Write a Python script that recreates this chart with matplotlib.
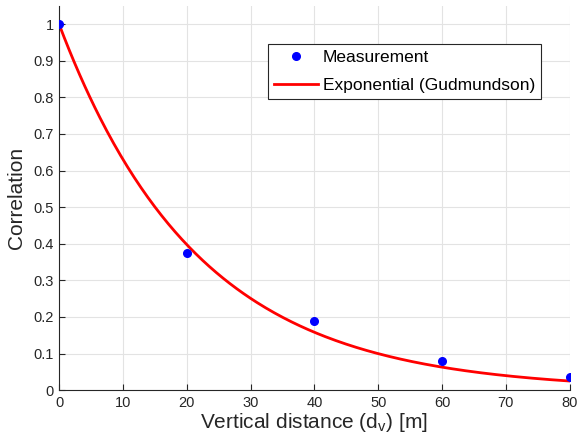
import numpy as np
import matplotlib.pyplot as plt

# measured correlation vs vertical distance
dist_m = [0, 20, 40, 60, 80]
corr_meas = [1.0, 0.375, 0.188, 0.08, 0.035]

# Gudmundson model: exp(-d / d_corr)
d_corr = 21.7

plt.rcParams['font.family'] = ['Liberation Sans', 'DejaVu Sans']

fig = plt.figure(figsize=(5.79, 4.48), dpi=100)
ax = fig.add_axes([0.102, 0.129, 0.882, 0.858])

d = np.linspace(0, 80, 300)
ax.plot(dist_m, corr_meas, 'o', color='blue', markersize=5.5, label='Measurement', zorder=3)
ax.plot(d, np.exp(-d / d_corr), color='red', linewidth=2, label='Exponential (Gudmundson)')

ax.set_xlim(0, 80)
ax.set_ylim(0, 1.05)
ax.set_xticks(np.arange(0, 81, 10))
ax.set_yticks(np.arange(0, 1.01, 0.1))
ax.set_yticklabels(['0', '0.1', '0.2', '0.3', '0.4', '0.5', '0.6', '0.7', '0.8', '0.9', '1'])
ax.tick_params(direction='in', labelsize=10.5, colors='#262626', length=4, pad=4)
ax.grid(True, color='#e3e3e3', linewidth=0.8)
ax.set_axisbelow(True)
for s in ['top', 'right']:
    ax.spines[s].set_visible(False)
for s in ['left', 'bottom']:
    ax.spines[s].set_color('#262626')

ax.set_xlabel('Vertical distance (d$_\\mathregular{v}$) [m]', fontsize=15, color='#262626', labelpad=1)
ax.set_ylabel('Correlation', fontsize=15, color='#262626', labelpad=5)

leg = ax.legend(loc='upper left', bbox_to_anchor=(0.409, 0.901), fontsize=12.5,
                fancybox=False, framealpha=1, edgecolor='#262626', borderpad=0.36,
                handlelength=2.5, handletextpad=0.3, labelspacing=0.7, borderaxespad=0)
leg.get_frame().set_linewidth(0.8)

fig.savefig('out.png', dpi=100)
